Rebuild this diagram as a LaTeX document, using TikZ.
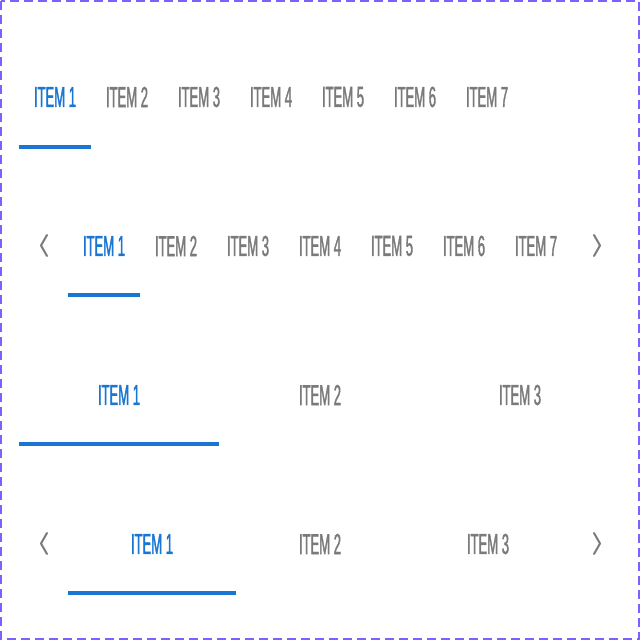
\documentclass[tikz,border=0pt]{standalone}
\usepackage{fontspec}
\setmainfont{Liberation Sans}[FakeStretch=0.45, FakeBold=1.2]
\usetikzlibrary{calc}
\definecolor{tabblue}{HTML}{1976D2}
\definecolor{tabgrey}{HTML}{7A7A7A}
\definecolor{framepurple}{HTML}{7B61FF}
\tikzset{
	tab/.style={inner sep=0pt, text=tabgrey, font=\fontsize{29}{29}\selectfont},
	tabon/.style={tab, text=tabblue},
	chev/.style={line width=2pt, color=tabgrey, line cap=round, line join=round}
}

\begin{document}
\begin{tikzpicture}[x=1pt, y=-1pt]
			%%%%% START %%%%%
			
			\useasboundingbox (0, 0) rectangle (640, 640);
			\draw[line width=1.5pt, color=framepurple, dash pattern=on 9pt off 5pt] (1, 1) rectangle (639, 639);
			
			\node[tabon] (r1a) at (55, 97) {ITEM 1};
			\node[tab] (r1b) at (127, 97) {ITEM 2};
			\node[tab] (r1c) at (199, 97) {ITEM 3};
			\node[tab] (r1d) at (271, 97) {ITEM 4};
			\node[tab] (r1e) at (343, 97) {ITEM 5};
			\node[tab] (r1f) at (415, 97) {ITEM 6};
			\node[tab] (r1g) at (487, 97) {ITEM 7};
			\draw[fill=tabblue, draw=none] (19, 145) rectangle (91, 149);
			
			\draw[chev] (47, 235) -- (41, 245.5) -- (47, 256);
			\node[tabon] (r2a) at (104, 246) {ITEM 1};
			\node[tab] (r2b) at (176, 246) {ITEM 2};
			\node[tab] (r2c) at (248, 246) {ITEM 3};
			\node[tab] (r2d) at (320, 246) {ITEM 4};
			\node[tab] (r2e) at (392, 246) {ITEM 5};
			\node[tab] (r2f) at (464, 246) {ITEM 6};
			\node[tab] (r2g) at (536, 246) {ITEM 7};
			\draw[chev] (594, 235) -- (600, 245.5) -- (594, 256);
			\draw[fill=tabblue, draw=none] (68, 293) rectangle (140, 297);
			
			\node[tabon] (r3a) at (119, 395) {ITEM 1};
			\node[tab] (r3b) at (320, 395) {ITEM 2};
			\node[tab] (r3c) at (520, 395) {ITEM 3};
			\draw[fill=tabblue, draw=none] (19, 442) rectangle (219, 446);
			
			\draw[chev] (47, 533) -- (41, 543.5) -- (47, 554);
			\node[tabon] (r4a) at (152, 544) {ITEM 1};
			\node[tab] (r4b) at (320, 544) {ITEM 2};
			\node[tab] (r4c) at (488, 544) {ITEM 3};
			\draw[chev] (594, 533) -- (600, 543.5) -- (594, 554);
			\draw[fill=tabblue, draw=none] (68, 591) rectangle (236, 595);
			
			%%%%% END %%%%%
\end{tikzpicture}
\end{document}
